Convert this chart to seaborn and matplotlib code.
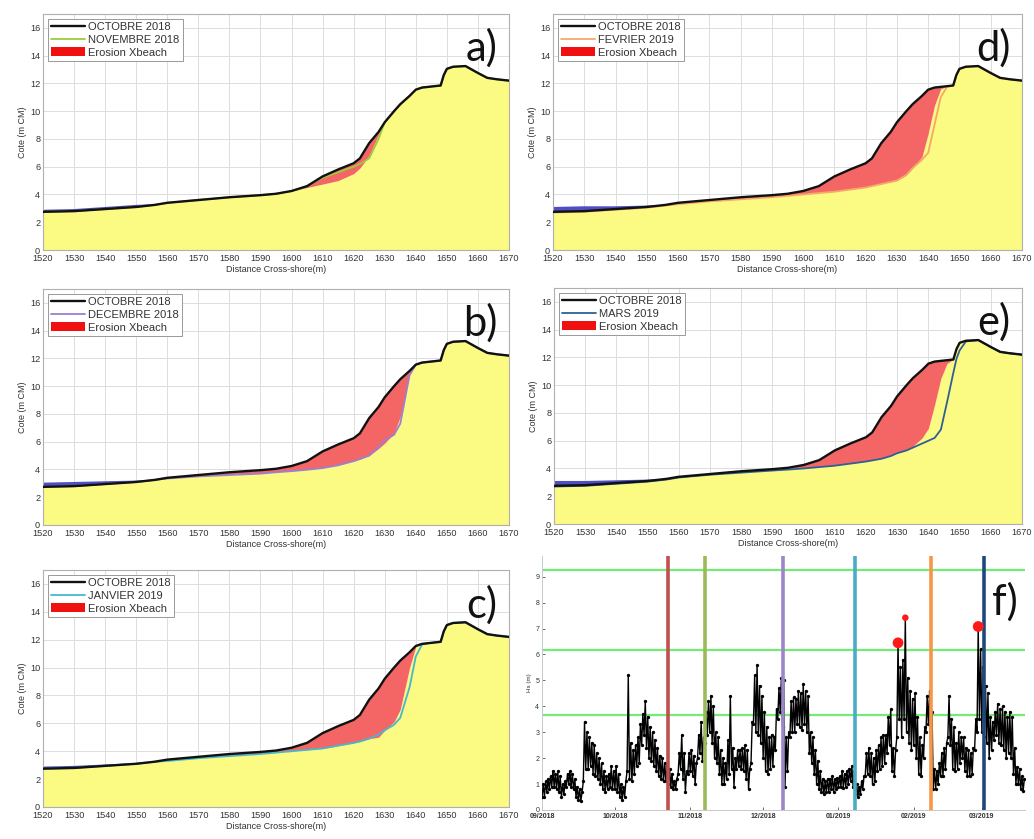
import numpy as np
import pandas as pd
import matplotlib
matplotlib.use("Agg")
import matplotlib.pyplot as plt
import matplotlib.dates as mdates
from matplotlib.patches import Patch
from matplotlib.lines import Line2D
import seaborn as sns

sns.set_theme(style="whitegrid")
plt.rcParams['font.family'] = ['Liberation Sans', 'DejaVu Sans']

# ---------------- profile data ----------------
distance = [1520, 1530, 1540, 1550, 1556, 1560, 1570, 1580, 1590, 1595, 1600, 1605,
            1610, 1615, 1620, 1622, 1625, 1628, 1630, 1633, 1635, 1638, 1640, 1642,
            1644, 1646, 1648, 1649, 1650, 1652, 1656, 1660, 1663, 1666, 1670]

octobre_2018 = [2.75, 2.8, 2.95, 3.1, 3.25, 3.4, 3.6, 3.8, 3.95, 4.05, 4.25, 4.6,
                5.3, 5.8, 6.25, 6.6, 7.7, 8.5, 9.2, 10.0, 10.5, 11.1, 11.55, 11.7,
                11.75, 11.8, 11.85, 12.6, 13.05, 13.2, 13.25, 12.75, 12.4, 12.3, 12.2]

# XBeach modelled profiles
xbeach_nov = [2.9, 2.95, 3.1, 3.25, 3.3, 3.4, 3.6, 3.8, 3.95, 4.05, 4.25, 4.5,
              4.75, 5.0, 5.5, 5.9, 6.8, 8.3, 9.2, 10.0, 10.5, 11.1, 11.55, 11.7,
              11.75, 11.8, 11.85, 12.6, 13.05, 13.2, 13.25, 12.75, 12.4, 12.3, 12.2]
xbeach_dec = [3.05, 3.1, 3.15, 3.2, 3.25, 3.4, 3.55, 3.65, 3.75, 3.82, 3.9, 4.0,
              4.15, 4.35, 4.6, 4.75, 5.0, 5.5, 5.9, 6.6, 7.8, 10.8, 11.55, 11.7,
              11.75, 11.8, 11.85, 12.6, 13.05, 13.2, 13.25, 12.75, 12.4, 12.3, 12.2]
xbeach_jan = [2.9, 2.95, 3.05, 3.15, 3.25, 3.35, 3.55, 3.7, 3.85, 3.93, 4.02, 4.1,
              4.19, 4.4, 4.6, 4.7, 4.9, 5.0, 5.5, 6.1, 7.0, 10.0, 11.5, 11.7,
              11.75, 11.8, 11.85, 12.6, 13.05, 13.2, 13.25, 12.75, 12.4, 12.3, 12.2]
xbeach_feb = [3.1, 3.15, 3.15, 3.2, 3.25, 3.35, 3.55, 3.7, 3.83, 3.95, 4.05, 4.15,
              4.25, 4.4, 4.55, 4.65, 4.8, 4.9, 5.0, 5.4, 5.9, 6.7, 8.4, 10.4,
              11.6, 11.8, 11.85, 12.6, 13.05, 13.2, 13.25, 12.75, 12.4, 12.3, 12.2]
xbeach_mar = [3.1, 3.1, 3.15, 3.2, 3.25, 3.4, 3.6, 3.8, 3.95, 4.02, 4.06, 4.14,
              4.22, 4.38, 4.53, 4.62, 4.77, 4.98, 5.13, 5.37, 5.6, 6.2, 6.9, 8.6,
              10.5, 11.57, 11.85, 12.6, 13.05, 13.2, 13.25, 12.75, 12.4, 12.3, 12.2]

# measured profiles
mesure_nov = [2.75, 2.8, 2.95, 3.1, 3.25, 3.4, 3.6, 3.8, 3.95, 4.05, 4.25, 4.6,
              5.2, 5.6, 6.0, 6.2, 6.6, 8.0, 9.2, 10.0, 10.5, 11.1, 11.55, 11.7,
              11.75, 11.8, 11.85, 12.6, 13.05, 13.2, 13.25, 12.75, 12.4, 12.3, 12.2]
mesure_dec = [2.75, 2.8, 2.95, 3.1, 3.25, 3.35, 3.5, 3.6, 3.7, 3.8, 3.88, 3.98,
              4.1, 4.3, 4.6, 4.75, 5.0, 5.6, 6.1, 6.5, 7.3, 10.8, 11.55, 11.7,
              11.75, 11.8, 11.85, 12.6, 13.05, 13.2, 13.25, 12.75, 12.4, 12.3, 12.2]
mesure_jan = [2.75, 2.8, 2.95, 3.1, 3.25, 3.3, 3.5, 3.65, 3.8, 3.9, 4.0, 4.1,
              4.2, 4.4, 4.6, 4.7, 4.9, 5.2, 5.5, 5.9, 6.4, 8.6, 10.8, 11.65,
              11.75, 11.8, 11.85, 12.6, 13.05, 13.2, 13.25, 12.75, 12.4, 12.3, 12.2]
mesure_feb = [2.7, 2.75, 2.9, 3.05, 3.2, 3.3, 3.5, 3.65, 3.8, 3.9, 4.0, 4.1,
              4.2, 4.35, 4.5, 4.6, 4.75, 4.9, 5.0, 5.4, 5.9, 6.5, 7.0, 9.0,
              11.0, 11.75, 11.85, 12.6, 13.05, 13.2, 13.25, 12.75, 12.4, 12.3, 12.2]
mesure_mar = [2.7, 2.75, 2.9, 3.05, 3.2, 3.35, 3.55, 3.7, 3.85, 3.92, 4.0, 4.1,
              4.2, 4.35, 4.5, 4.58, 4.7, 4.9, 5.1, 5.3, 5.5, 5.8, 6.0, 6.2,
              6.8, 8.8, 10.9, 11.9, 12.5, 13.15, 13.25, 12.75, 12.4, 12.3, 12.2]

month_labels = ["NOVEMBRE 2018", "DECEMBRE 2018", "JANVIER 2019", "FEVRIER 2019", "MARS 2019"]
panel_letters = ["a)", "b)", "c)", "d)", "e)"]
month_colors = ["#9ccc3c", "#9a80d0", "#45b8d0", "#f6a86a", "#2f5f96"]

# ---------------- wave data (Hs, m) : daily low (00h) / high (12h) ----------------
hs_low_sep = [0.5, 0.5, 0.7, 0.8, 0.9, 0.9, 0.8, 0.7, 0.5, 0.6, 0.9, 1.0, 0.9, 0.8, 0.5,
              0.4, 0.35, 1.1, 1.6, 1.6, 1.7, 1.4, 1.3, 1.2, 1.0, 0.8, 0.7, 0.8, 0.9, 0.8]
hs_high_sep = [1.0, 1.1, 1.2, 1.3, 1.5, 1.4, 1.5, 1.3, 1.0, 1.1, 1.4, 1.5, 1.4, 1.2, 0.9,
               0.8, 0.7, 3.4, 3.0, 2.8, 2.6, 2.5, 2.2, 2.0, 1.8, 1.5, 1.3, 1.4, 1.7, 1.5]
hs_low_oct = [0.8, 0.7, 0.5, 0.4, 0.5, 1.5, 1.2, 1.1, 1.4, 1.7, 1.8, 2.5, 2.9, 2.4, 2.0, 1.9,
              1.7, 1.5, 1.3, 1.2, 1.1, 1.1, 1.0, 0.9, 0.8, 0.8, 1.4, 1.6, 1.2, 0.7, 1.4]
hs_high_oct = [1.7, 1.4, 1.0, 0.9, 1.1, 5.2, 2.6, 2.3, 2.5, 2.8, 3.3, 3.7, 4.2, 3.6, 3.2, 3.0,
               2.7, 2.4, 2.1, 2.0, 1.8, 1.7, 1.6, 1.4, 1.1, 1.2, 2.2, 2.9, 2.2, 1.5, 2.2]
hs_low_nov = [1.5, 1.3, 1.0, 2.0, 2.2, 1.9, 2.6, 2.9, 3.0, 2.6, 2.0, 1.8, 1.4, 1.0, 1.0,
              1.2, 1.4, 1.6, 0.9, 1.6, 1.7, 1.6, 1.5, 1.2, 0.8, 1.8, 3.3, 3.0, 2.9, 2.6]
hs_high_nov = [2.3, 2.1, 1.8, 2.9, 3.4, 2.8, 3.8, 4.2, 4.4, 4.0, 3.0, 2.8, 2.3, 2.0, 1.8,
               2.7, 4.4, 2.4, 2.0, 2.3, 2.3, 2.4, 2.5, 2.3, 1.6, 3.4, 5.2, 5.6, 4.8, 4.4]
hs_low_dec = [2.0, 1.5, 1.4, 1.6, 1.7, 2.3, 3.5, 3.8, 3.2, 0.9, 1.5, 2.8, 3.0, 3.0, 3.3, 3.2,
              3.1, 3.3, 3.0, 2.2, 1.8, 1.4, 1.0, 0.8, 0.7, 0.6, 0.7, 0.7, 0.8, 0.7, 0.8]
hs_high_dec = [3.8, 3.2, 2.8, 2.9, 2.8, 3.9, 4.7, 5.1, 5.0, 2.8, 3.0, 4.2, 4.35, 4.3, 4.6, 4.5,
               4.85, 4.6, 4.4, 3.0, 2.8, 2.3, 1.9, 1.5, 1.2, 1.1, 1.2, 1.2, 1.3, 1.2, 1.25]
hs_low_jan = [0.9, 0.9, 0.85, 0.9, 1.0, 1.1, 0.9, 0.6, 0.5, 0.6, 0.8, 1.3, 1.4, 1.3, 1.0, 1.1,
              1.5, 1.6, 1.7, 1.8, 2.2, 2.5, 1.5, 1.3, 2.8, 3.5, 2.8, 3.5, 3.0, 2.6, 2.3]
hs_high_jan = [1.3, 1.5, 1.4, 1.5, 1.6, 1.7, 1.5, 1.0, 0.9, 1.1, 1.3, 2.2, 2.4, 2.2, 2.0, 2.3,
               2.5, 2.8, 2.9, 2.9, 3.6, 3.9, 2.4, 2.3, 6.45, 5.5, 5.8, 7.42, 5.1, 4.6, 4.3]
hs_low_feb = [2.5, 2.0, 1.4, 1.3, 2.0, 3.0, 3.3, 2.0, 0.8, 0.8, 1.0, 1.3, 1.3, 1.6, 2.8,
              2.5, 1.6, 1.5, 1.6, 1.8, 2.0, 1.5, 1.3, 1.3, 1.4, 2.3, 3.0, 3.5]
hs_high_feb = [4.5, 3.6, 2.8, 2.5, 3.2, 4.4, 4.6, 3.8, 1.6, 1.5, 1.8, 2.2, 2.4, 2.6, 4.4,
               3.5, 3.2, 2.6, 3.0, 2.8, 2.8, 2.4, 2.3, 2.2, 2.4, 3.5, 7.08, 6.2]
hs_low_mar = [3.0, 2.8, 2.6, 2.0, 2.3, 2.7, 2.9, 2.6, 2.5, 2.3, 2.0, 2.2, 2.0, 1.4, 1.0,
              1.0, 0.8, 0.75]
hs_high_mar = [5.5, 4.8, 4.5, 3.6, 3.4, 3.8, 4.1, 3.9, 4.0, 3.8, 3.6, 3.8, 3.6, 2.4, 1.65,
               1.6, 1.3, 1.2]

survey_dates = ["2018-10-23", "2018-11-07", "2018-12-09", "2019-01-08", "2019-02-08", "2019-03-02"]
survey_colors = ["#c0504d", "#9bbb59", "#9d86c8", "#4bacc6", "#f79646", "#1f497d"]
threshold_hs = [9.27, 6.19, 3.68]
storm_dates = ["2019-01-25 12:00", "2019-01-28 12:00", "2019-02-27 12:00"]
storm_hs = [6.45, 7.42, 7.08]
storm_size = [2, 1, 2]

# ---------------- figure ----------------
W, H = 1034, 839
fig = plt.figure(figsize=(W / 100, H / 100), dpi=100)

def box(l, t, r, b):
    return [l / W, (H - b) / H, (r - l) / W, (b - t) / H]

profile_boxes = [box(43, 14, 509, 250), box(43, 289, 509, 525), box(43, 570, 509, 807),
                 box(553, 14, 1022, 250), box(554, 288, 1022, 524)]
xbeach_all = [xbeach_nov, xbeach_dec, xbeach_jan, xbeach_feb, xbeach_mar]
mesure_all = [mesure_nov, mesure_dec, mesure_jan, mesure_feb, mesure_mar]

YELLOW = "#fbfa82"
RED = "#f46666"
BLUE = "#3c3cbc"
x = np.array(distance, dtype=float)
zo = np.array(octobre_2018)

for i in range(5):
    ax = fig.add_axes(profile_boxes[i])
    xb = np.array(xbeach_all[i])
    ms = np.array(mesure_all[i])
    ax.fill_between(x, 0, np.minimum(zo, xb), color=YELLOW, lw=0, zorder=1)
    ax.fill_between(x, xb, zo, where=zo >= xb, interpolate=True, color=RED, lw=0, zorder=2)
    ax.fill_between(x, zo, xb, where=xb >= zo, interpolate=True, color=BLUE, alpha=0.9, lw=0, zorder=2)
    sns.lineplot(x=x, y=ms, color=month_colors[i], lw=1.3, ax=ax, zorder=3, sort=False, estimator=None)
    sns.lineplot(x=x, y=zo, color="#111111", lw=1.7, ax=ax, zorder=4, sort=False, estimator=None)
    ax.set_xlim(1520, 1670)
    ax.set_ylim(0, 17)
    ax.set_xticks(np.arange(1520, 1671, 10))
    ax.set_yticks(np.arange(0, 17, 2))
    ax.grid(True, color="#dddddd", lw=0.7)
    ax.set_axisbelow(True)
    for sp in ax.spines.values():
        sp.set_color("#b0b0b0")
        sp.set_linewidth(0.8)
    ax.tick_params(axis="x", labelsize=6.6, colors="#333333", pad=3, length=0)
    ax.tick_params(axis="y", labelsize=6.6, colors="#333333", pad=2, length=0)
    ax.set_xlabel("Distance Cross-shore(m)", fontsize=6.5, color="#333333", labelpad=1)
    ax.set_ylabel("Cote (m CM)", fontsize=6.5, color="#333333", labelpad=2)
    handles = [Line2D([0], [0], color="#111111", lw=1.7),
               Line2D([0], [0], color=month_colors[i], lw=1.3),
               Patch(facecolor="#f01010", edgecolor="none")]
    leg = ax.legend(handles, ["OCTOBRE 2018", month_labels[i], "Erosion Xbeach"],
                    loc="upper left", fontsize=8, handlelength=3.0, handleheight=0.8,
                    labelspacing=0.22, borderpad=0.3, handletextpad=0.3,
                    borderaxespad=0.45, frameon=True, fancybox=False, framealpha=1)
    leg.get_frame().set_edgecolor("#999999")
    leg.get_frame().set_linewidth(0.7)
    for t in leg.get_texts():
        t.set_color("#333333")
    ax.text(0.975, 0.80, panel_letters[i], transform=ax.transAxes, ha="right", va="baseline",
            fontsize=30, family=["Lato", "DejaVu Sans"], color="#111111")

# ---------------- panel f ----------------
axf = fig.add_axes(box(542, 556, 1025, 810))
month_lows = [hs_low_sep, hs_low_oct, hs_low_nov, hs_low_dec, hs_low_jan, hs_low_feb, hs_low_mar]
month_highs = [hs_high_sep, hs_high_oct, hs_high_nov, hs_high_dec, hs_high_jan, hs_high_feb, hs_high_mar]
lows = sum(month_lows, [])
highs = sum(month_highs, [])
days = pd.date_range("2018-09-01", periods=len(lows), freq="D")
times, vals = [], []
for d, lo, hi in zip(days, lows, highs):
    times += [d, d + pd.Timedelta(hours=12)]
    vals += [lo, hi]
hs_df = pd.DataFrame({"time": times, "hs": vals})

for yv in threshold_hs:
    axf.axhline(yv, color="#74ec74", lw=1.6, zorder=1)
sns.lineplot(data=hs_df, x="time", y="hs", color="black", lw=1.0, marker="o",
             markersize=2.4, markeredgewidth=0, ax=axf, zorder=3, estimator=None, sort=False)
for dte, col in zip(survey_dates, survey_colors):
    axf.axvline(pd.Timestamp(dte), color=col, lw=2.6, zorder=4)
storm_df = pd.DataFrame({"time": pd.to_datetime(storm_dates), "hs": storm_hs, "size": storm_size})
sns.scatterplot(data=storm_df, x="time", y="hs", size="size", sizes=(22, 60), color="#ff1a1a",
                edgecolor="none", legend=False, ax=axf, zorder=5)

axf.set_xlim(pd.Timestamp("2018-09-01"), pd.Timestamp("2019-03-18 18:00"))
axf.set_ylim(0, 9.8)
axf.set_yticks(range(0, 10))
axf.xaxis.set_major_locator(mdates.MonthLocator())
axf.xaxis.set_major_formatter(mdates.DateFormatter("%m/%Y"))
axf.grid(False)
for side in ["top", "right"]:
    axf.spines[side].set_visible(False)
for side in ["left", "bottom"]:
    axf.spines[side].set_color("#c8c8c8")
    axf.spines[side].set_linewidth(0.7)
axf.tick_params(labelsize=5, colors="#333333", pad=2, length=2, width=0.5,
                direction="in", bottom=True, left=True)
for lbl in axf.get_xticklabels():
    lbl.set_fontweight("bold")
axf.set_xlabel("")
axf.set_ylabel("Hs (m)", fontsize=4.5, color="#333333", labelpad=2)
axf.text(0.985, 0.77, "f)", transform=axf.transAxes, ha="right", va="baseline",
         fontsize=30, family=["Lato", "DejaVu Sans"], color="#111111")

fig.savefig("out.png", dpi=100)
